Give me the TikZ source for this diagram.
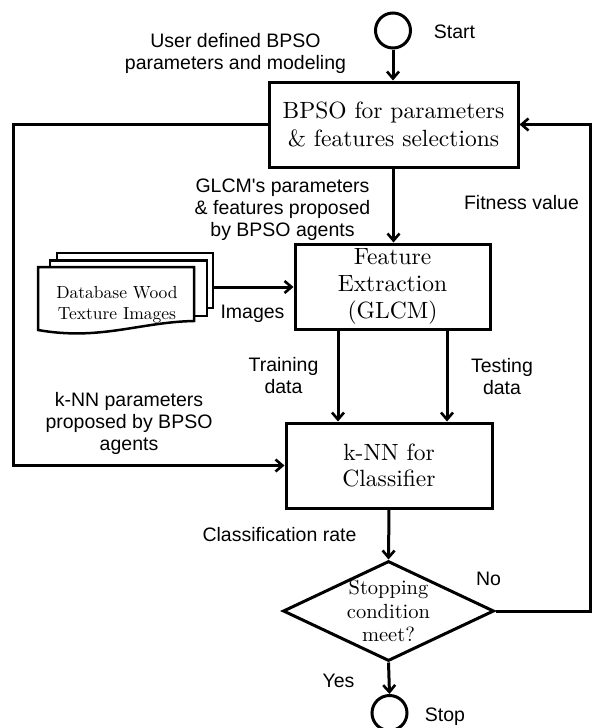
\documentclass[tikz,border=0pt]{standalone}
\usepackage{fontspec}
\newfontfamily\labfont{Liberation Sans}
\newfontfamily\boxfont[Extension=.otf]{lmroman10-regular}
\usetikzlibrary{shapes.geometric,arrows.meta}
\begin{document}
\begin{tikzpicture}[x=1pt,y=-1pt,line width=3pt,
  box/.style={draw,rectangle,fill=white,align=center,inner sep=0pt,
    font=\boxfont\fontsize{23.5}{27}\selectfont},
  term/.style={draw,circle,inner sep=0pt,minimum size=35pt},
  lbl/.style={align=center,inner sep=0pt,font=\labfont\fontsize{19.5}{22}\selectfont},
  arr/.style={-{Straight Barb[length=7pt,width=12pt,line width=2.6pt]}},
]
\useasboundingbox[fill=white] (0,0) rectangle (592,728);

% main nodes
\node[term] (start) at (393,30.5) {};
\node[box,minimum width=249pt,minimum height=85pt,font=\boxfont\fontsize{23.5}{28}\selectfont]
  (bpso) at (393.5,124.5) {BPSO for parameters\\\& features selections};
\node[box,minimum width=195pt,minimum height=85pt] (fe) at (392.5,286.5)
  {Feature\\Extraction\\(GLCM)};
\node[box,minimum width=206pt,minimum height=85pt,font=\boxfont\fontsize{23.5}{26}\selectfont]
  (knn) at (389,465.5) {k-NN for\\Classifier};
\node[draw,diamond,inner sep=0pt,minimum width=211pt,minimum height=100pt,aspect=2.11]
  (dia) at (388.5,611) {};
\node[align=center,inner sep=0pt,font=\boxfont\fontsize{20.5}{23.5}\selectfont]
  (diatext) at (dia.center) {Stopping\\condition\\meet?};
\node[term] (stop) at (389.5,713) {};

% database documents
\begin{scope}[line width=2.5pt]
\draw[fill=white] (57,253) rectangle (213,308);
\draw[fill=white] (50,260.5) rectangle (207,316);
\draw[fill=white] (38,267) -- (194,267) -- (194,321)
  .. controls (140,322) and (100,341) .. (38,330) -- cycle;
\end{scope}
\node[align=center,inner sep=0pt,font=\boxfont\fontsize{17.5}{21}\selectfont]
  (db) at (117,304.5) {Database Wood\\Texture Images};
\coordinate (dbout) at (213,287);

% labels
\node[lbl] (user) at (235.5,53) {User defined BPSO\\parameters and modeling};
\node[lbl] (startlbl) at (454.5,32) {Start};
\node[lbl] (glcm) at (282.5,209.5) {GLCM's parameters\\\& features proposed\\by BPSO agents};
\node[lbl] (fit) at (521.5,203) {Fitness value};
\node[lbl] (images) at (252.5,314) {Images};
\node[lbl] (train) at (283.5,376) {Training\\data};
\node[lbl] (test) at (502,377) {Testing\\data};
\node[lbl] (knnp) at (129,423) {k-NN parameters\\proposed by BPSO\\agents};
\node[lbl] (cls) at (279.5,535) {Classification rate};
\node[lbl] (no) at (488.5,579) {No};
\node[lbl] (yes) at (338.5,681) {Yes};
\node[lbl] (stoplbl) at (445,717) {Stop};

% helper coordinates
\coordinate (lx) at (13,0);
\coordinate (rx) at (590,0);
\coordinate (trx) at (338,0);
\coordinate (tsx) at (447,0);

% connectors
\draw[arr] (start.south) -- (start.south |- bpso.north);
\draw[arr] (bpso.south) -- (bpso.south |- fe.north);
\draw[arr] (dbout) -- (dbout -| fe.west);
\draw[arr] (fe.south -| trx) -- (knn.north -| trx);
\draw[arr] (fe.south -| tsx) -- (knn.north -| tsx);
\draw[arr] (knn.south) -- (dia.north);
\draw[arr] (dia.south) -- (stop.north);
\draw[arr] (bpso.west) -- (bpso.west -| lx) -- (knn.west -| lx) -- (knn.west);
\draw[arr] (dia.east) -- (dia.east -| rx) -- (bpso.east -| rx) -- (bpso.east);
\end{tikzpicture}
\end{document}
